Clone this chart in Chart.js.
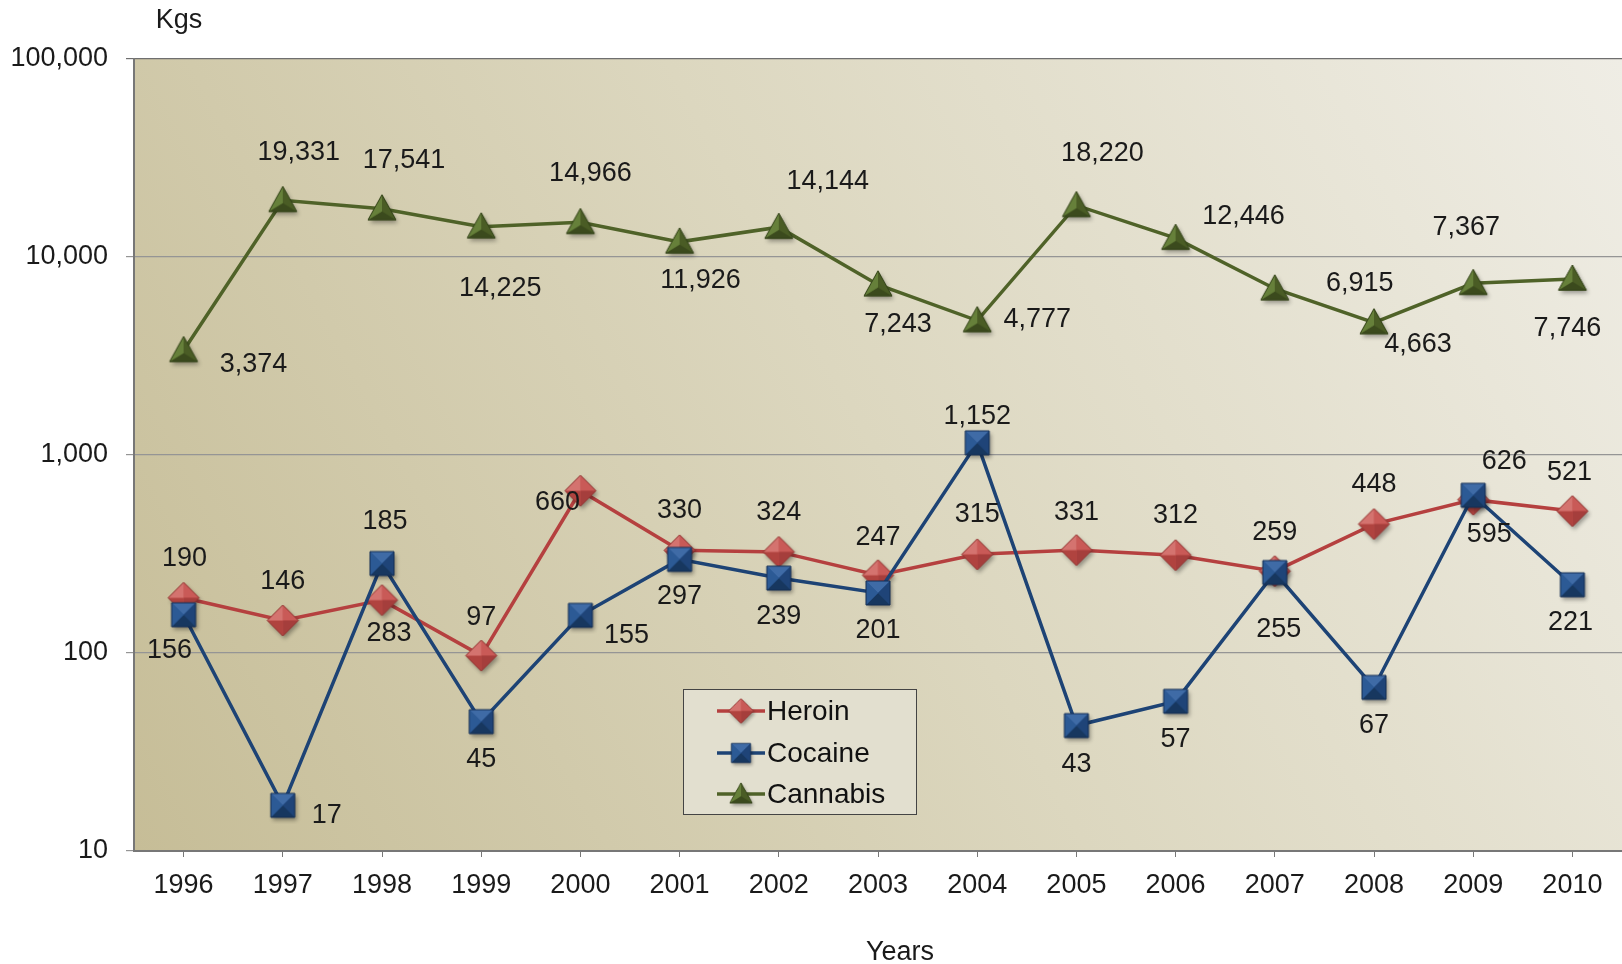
<!DOCTYPE html>
<html>
<head>
<meta charset="utf-8">
<script src="https://cdn.jsdelivr.net/npm/chart.js@4.4.1/dist/chart.umd.min.js"></script>
<style>
  html, body { margin: 0; padding: 0; background: #fff; }
  #wrap { position: relative; width: 1622px; height: 964px; }
  #legend {
    position: absolute; left: 683px; top: 689px; width: 234px; height: 126px;
    box-sizing: border-box; border: 1.5px solid #444; background: #e2dfcf;
    font-family: "Liberation Sans", Arial, sans-serif; font-size: 28px; color: #111;
  }
  .item { position: absolute; left: 32px; height: 36px; display: flex; align-items: center; }
  .item canvas { margin-right: 1px; }
</style>
</head>
<body>
<div id="wrap">
  <canvas id="chart" width="1622" height="964"></canvas>
  <div id="legend"></div>
</div>
<script>
  const years = ['1996', '1997', '1998', '1999', '2000', '2001', '2002', '2003', '2004', '2005', '2006', '2007', '2008', '2009', '2010'];
  const heroin = [190, 146, 185, 97, 660, 330, 324, 247, 315, 331, 312, 259, 448, 595, 521];
  const cocaine = [156, 17, 283, 45, 155, 297, 239, 201, 1152, 43, 57, 255, 67, 626, 221];
  const cannabis = [3374, 19331, 17541, 14225, 14966, 11926, 14144, 7243, 4777, 18220, 12446, 6915, 4663, 7367, 7746];
  const yTicks = [10, 100, 1000, 10000, 100000];

  // where each value label sits relative to its point (px)
  const heroinLbl = [[1,-39],[0,-39],[3,-79],[0,-38],[-23,12],[0,-40],[0,-39],[0,-38],[0,-40],[0,-38],[0,-40],[0,-39],[0,-40],[16,35],[-3,-39]];
  const cocaineLbl = [[-14,36],[44,10],[7,70],[0,38],[46,20],[0,37],[0,38],[0,38],[0,-26],[0,39],[0,38],[4,57],[0,38],[31,-34],[-2,38]];
  const cannabisLbl = [[70,14],[16,-48],[22,-48],[19,62],[10,-49],[21,39],[49,-46],[20,40],[60,-1],[26,-52],[68,-22],[85,-5],[44,22],[-7,-56],[-5,50]];

  const FONT = '"Liberation Sans", Arial, sans-serif';

  function makeMarker(kind, size, base, shades, edge) {
    const pad = 7;
    const c = document.createElement('canvas');
    c.width = c.height = size + pad * 2;
    const g = c.getContext('2d');
    const m = c.width / 2, h = size / 2;
    let pts, ctr = [m, m];
    if (kind === 'square') pts = [[m - h, m - h], [m + h, m - h], [m + h, m + h], [m - h, m + h]];
    if (kind === 'diamond') pts = [[m, m - h], [m + h, m], [m, m + h], [m - h, m]];
    if (kind === 'triangle') { pts = [[m, m - h], [m + h, m + h * 0.8], [m - h, m + h * 0.8]]; ctr = [m, m + h * 0.2]; }
    const path = () => { g.beginPath(); pts.forEach((p, i) => i ? g.lineTo(p[0], p[1]) : g.moveTo(p[0], p[1])); g.closePath(); };
    g.save();
    g.shadowColor = 'rgba(0,0,0,0.35)'; g.shadowBlur = 4; g.shadowOffsetX = 2; g.shadowOffsetY = 3;
    path(); g.fillStyle = base; g.fill();
    g.restore();
    pts.forEach((p, i) => {
      const q = pts[(i + 1) % pts.length];
      g.beginPath(); g.moveTo(p[0], p[1]); g.lineTo(q[0], q[1]); g.lineTo(ctr[0], ctr[1]); g.closePath();
      g.fillStyle = shades[i]; g.fill();
    });
    path(); g.lineWidth = 1; g.strokeStyle = edge; g.stroke();
    return c;
  }

  const diamond = makeMarker('diamond', 31, '#c0504d', ['#c95a57', '#a53e3c', '#b0433f', '#d4736f'], '#8e3532');
  const square = makeMarker('square', 24, '#25508a', ['#3f6ba6', '#1f4478', '#17375f', '#2c5a95'], '#142f55');
  const triangle = makeMarker('triangle', 28, '#4f6228', ['#4a5c25', '#3b4a1d', '#66803a'], '#34431a');

  const bgPlugin = {
    id: 'bg',
    beforeDraw(chart) {
      const { ctx, chartArea: a } = chart;
      ctx.save();
      ctx.fillStyle = '#fff';
      ctx.fillRect(0, 0, chart.width, chart.height);
      const gr = ctx.createLinearGradient(a.left, a.bottom, a.right, a.top);
      gr.addColorStop(0, '#c6bd97');
      gr.addColorStop(0.5, '#dcd7bf');
      gr.addColorStop(1, '#efede5');
      ctx.fillStyle = gr;
      ctx.fillRect(a.left, a.top, a.right - a.left, a.bottom - a.top);
      ctx.restore();
    }
  };

  const labelPlugin = {
    id: 'valueLabels',
    afterDatasetsDraw(chart) {
      const ctx = chart.ctx;
      ctx.save();
      ctx.font = '27px ' + FONT;
      ctx.fillStyle = '#1a1a1a';
      ctx.textAlign = 'center';
      ctx.textBaseline = 'middle';
      chart.data.datasets.forEach((ds, i) => {
        chart.getDatasetMeta(i).data.forEach((pt, j) => {
          const off = ds.lblOffsets[j];
          ctx.fillText(ds.data[j].toLocaleString('en-US'), pt.x + off[0], pt.y + off[1]);
        });
      });
      ctx.fillText('Kgs', 179, 21);
      ctx.fillText('Years', 900, 953);
      ctx.restore();
    }
  };

  new Chart(document.getElementById('chart'), {
    type: 'line',
    data: {
      labels: years,
      datasets: [
        { label: 'Heroin', data: heroin, lblOffsets: heroinLbl, borderColor: '#b5403f', pointStyle: diamond, order: 2 },
        { label: 'Cocaine', data: cocaine, lblOffsets: cocaineLbl, borderColor: '#1d4375', pointStyle: square, order: 1 },
        { label: 'Cannabis', data: cannabis, lblOffsets: cannabisLbl, borderColor: '#4f6228', pointStyle: triangle, order: 0 }
      ].map(d => Object.assign(d, { borderWidth: 3.5, tension: 0, pointRadius: 12, clip: false }))
    },
    options: {
      responsive: false,
      animation: false,
      events: [],
      layout: { autoPadding: false, padding: { top: 59, left: 0, right: 0, bottom: 0 } },
      plugins: { legend: { display: false }, tooltip: { enabled: false } },
      scales: {
        x: {
          offset: true,
          afterFit: s => { s.height = 113; s.paddingLeft = 0; s.paddingRight = 0; },
          grid: { offset: false, drawOnChartArea: false, tickLength: 6, color: '#777' },
          border: { color: '#777', width: 2 },
          ticks: { font: { size: 27, family: FONT }, color: '#1a1a1a', padding: 12, maxRotation: 0, autoSkip: false }
        },
        y: {
          type: 'logarithmic',
          min: 10,
          max: 100000,
          afterFit: s => { s.width = 134; s.paddingTop = 0; s.paddingBottom = 0; },
          afterBuildTicks: s => { s.ticks = yTicks.map(v => ({ value: v })); },
          grid: { color: c => c.tick && c.tick.value === 100000 ? '#6f6f6f' : '#959595', lineWidth: 1.2, tickLength: 8 },
          border: { color: '#777', width: 2 },
          ticks: { font: { size: 27, family: FONT }, color: '#1a1a1a', padding: 18, callback: v => v.toLocaleString('en-US') }
        }
      }
    },
    plugins: [bgPlugin, labelPlugin]
  });

  // legend
  const legendItems = [['Heroin', '#b5403f', diamond], ['Cocaine', '#1d4375', square], ['Cannabis', '#4f6228', triangle]];
  const legend = document.getElementById('legend');
  legendItems.forEach((it, i) => {
    const row = document.createElement('div');
    row.className = 'item';
    row.style.top = (3 + i * 41.5) + 'px';
    const cv = document.createElement('canvas');
    cv.width = 50; cv.height = 34;
    const g = cv.getContext('2d');
    g.strokeStyle = it[1]; g.lineWidth = 3.5;
    g.beginPath(); g.moveTo(1, 17); g.lineTo(49, 17); g.stroke();
    const sz = it[2].width * 0.8;
    g.drawImage(it[2], 25 - sz / 2, 17 - sz / 2, sz, sz);
    row.appendChild(cv);
    const sp = document.createElement('span');
    sp.textContent = it[0];
    row.appendChild(sp);
    legend.appendChild(row);
  });
</script>
</body>
</html>
